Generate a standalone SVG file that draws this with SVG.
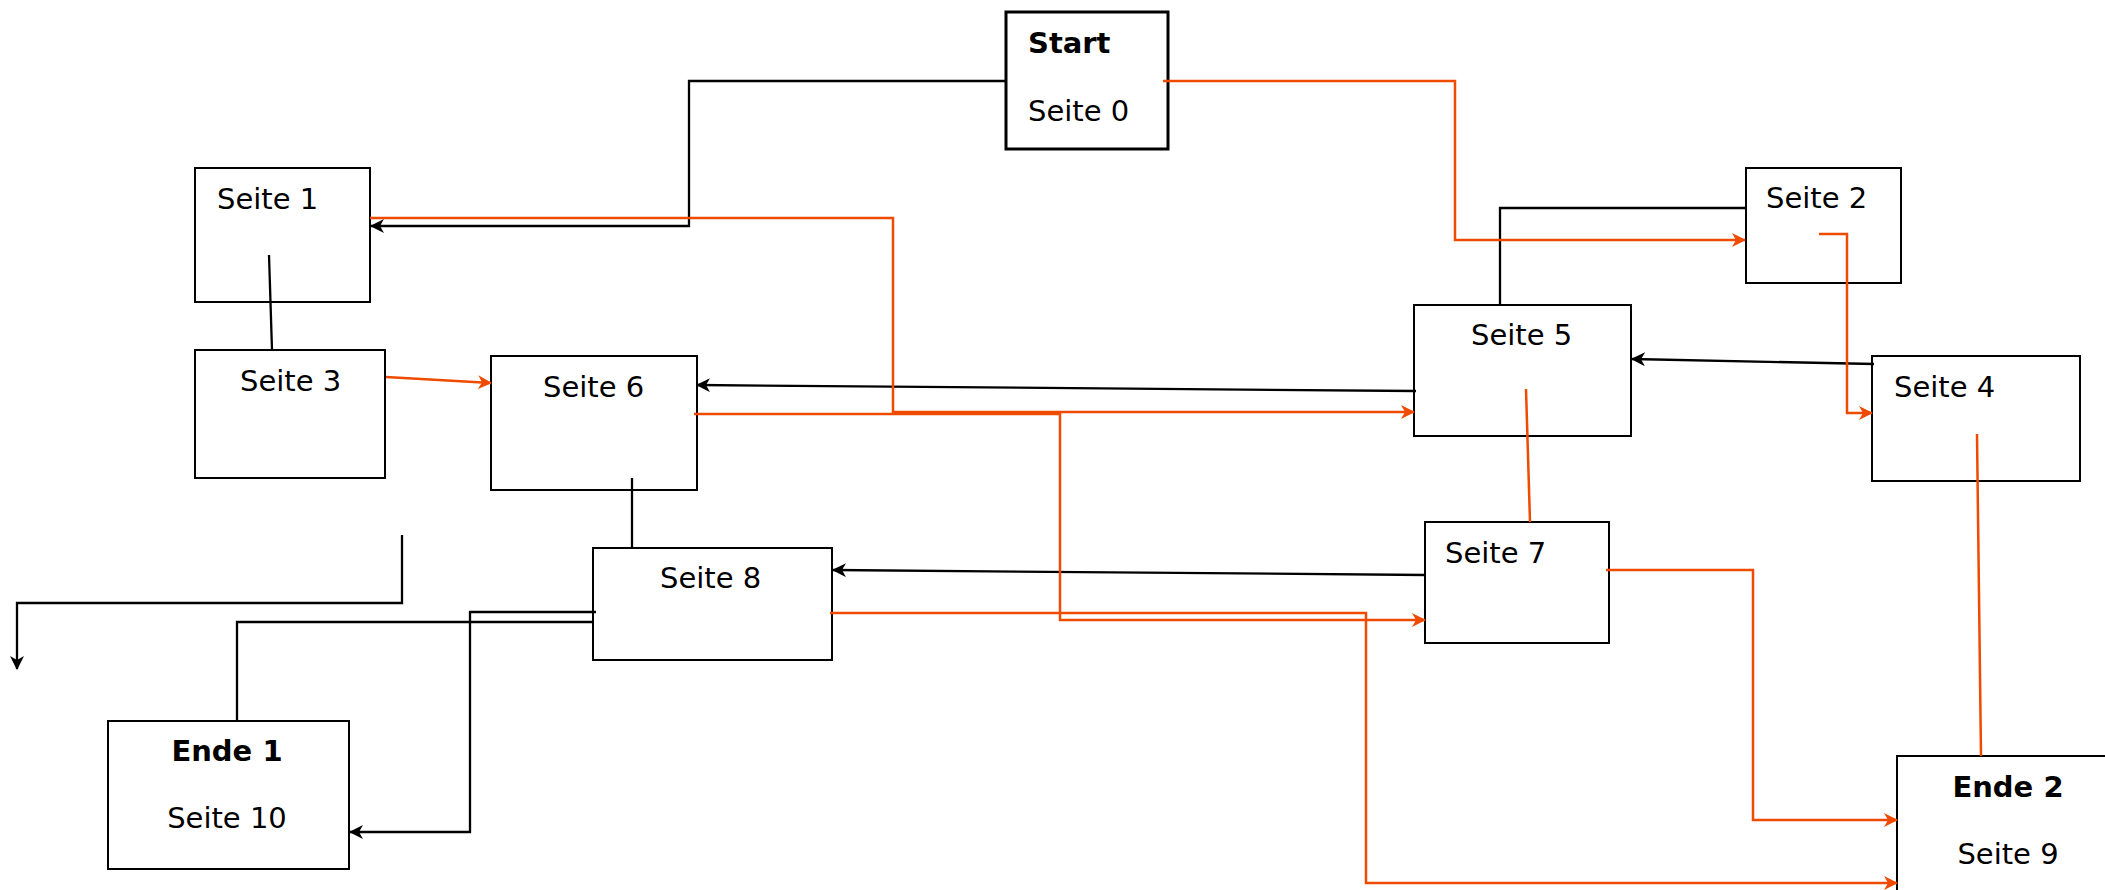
<svg xmlns="http://www.w3.org/2000/svg" width="2105" height="890" viewBox="0 0 2105 890">
<style>
.box{fill:#fff;stroke:#000;stroke-width:2}
.thick{stroke-width:3}
.t{font-family:"DejaVu Sans",Verdana,sans-serif;font-size:29px;fill:#000}
.b{font-weight:bold}
.k{fill:none;stroke:#000;stroke-width:2.3}
.o{fill:none;stroke:#EF4B00;stroke-width:2.5}
</style>
<defs>
<marker id="ak" viewBox="0 0 14 14" refX="13" refY="7" markerWidth="14" markerHeight="14" markerUnits="userSpaceOnUse" orient="auto"><path d="M0,0 L14,7 L0,14 L4,7 Z" fill="#000"/></marker>
<marker id="ao" viewBox="0 0 14 14" refX="13" refY="7" markerWidth="14" markerHeight="14" markerUnits="userSpaceOnUse" orient="auto"><path d="M0,0 L14,7 L0,14 L4,7 Z" fill="#EF4B00"/></marker>
</defs>
<rect width="2105" height="890" fill="#fff"/>
<g id="n0"><rect class="box thick" x="1006" y="12" width="162" height="137"/><text class="t b" x="1028" y="53">Start</text><text class="t" x="1028" y="121">Seite 0</text></g>
<g id="n1"><rect class="box" x="195" y="168" width="175" height="134"/><text class="t" x="217" y="209">Seite 1</text></g>
<g id="n2"><rect class="box" x="1746" y="168" width="155" height="115"/><text class="t" x="1766" y="208">Seite 2</text></g>
<g id="n3"><rect class="box" x="195" y="350" width="190" height="128"/><text class="t" x="240" y="391">Seite 3</text></g>
<g id="n4"><rect class="box" x="1872" y="356" width="208" height="125"/><text class="t" x="1894" y="397">Seite 4</text></g>
<g id="n5"><rect class="box" x="1414" y="305" width="217" height="131"/><text class="t" x="1471" y="345">Seite 5</text></g>
<g id="n6"><rect class="box" x="491" y="356" width="206" height="134"/><text class="t" x="543" y="397">Seite 6</text></g>
<g id="n7"><rect class="box" x="1425" y="522" width="184" height="121"/><text class="t" x="1445" y="563">Seite 7</text></g>
<g id="n8"><rect class="box" x="593" y="548" width="239" height="112"/><text class="t" x="660" y="588">Seite 8</text></g>
<g id="n10"><rect class="box" x="108" y="721" width="241" height="148"/><text class="t b" x="227" y="761" text-anchor="middle">Ende 1</text><text class="t" x="227" y="828" text-anchor="middle">Seite 10</text></g>
<g id="n9"><rect class="box" x="1897" y="756" width="223" height="150"/><text class="t b" x="2008" y="797" text-anchor="middle">Ende 2</text><text class="t" x="2008" y="864" text-anchor="middle">Seite 9</text></g>
<g id="connectors">
<path class="k" d="M1005,81 H689 V226 H371" marker-end="url(#ak)"/>
<path class="k" d="M269,255 L272,350" stroke-width="2"/>
<path class="k" d="M1747,208 H1500 V305"/>
<path class="k" d="M1874,364 L1632,359" marker-end="url(#ak)"/>
<path class="k" d="M1416,391 L697,385" marker-end="url(#ak)"/>
<path class="k" d="M632,478 V548" stroke-width="2"/>
<path class="k" d="M1426,575 L833,570" marker-end="url(#ak)"/>
<path class="k" d="M402,535 V603 H17 V669" marker-end="url(#ak)"/>
<path class="k" d="M237,721 V622 H593" stroke-width="2"/>
<path class="k" d="M596,612 H470 V832 H350" marker-end="url(#ak)"/>
<path class="o" d="M1163,81 H1455 V240 H1745" marker-end="url(#ao)"/>
<path class="o" d="M370,218 H893 V412 H1414" marker-end="url(#ao)"/>
<path class="o" d="M386,377 L491,383" marker-end="url(#ao)"/>
<path class="o" d="M694,414 H1060 V620 H1425" marker-end="url(#ao)"/>
<path class="o" d="M1819,234 H1847 V413 H1872" marker-end="url(#ao)"/>
<path class="o" d="M1526,389 L1530,522"/>
<path class="o" d="M1977,434 L1981,756"/>
<path class="o" d="M1606,570 H1753 V820 H1897" marker-end="url(#ao)"/>
<path class="o" d="M830,613 H1366 V883 H1897" marker-end="url(#ao)"/>
</g>
</svg>
